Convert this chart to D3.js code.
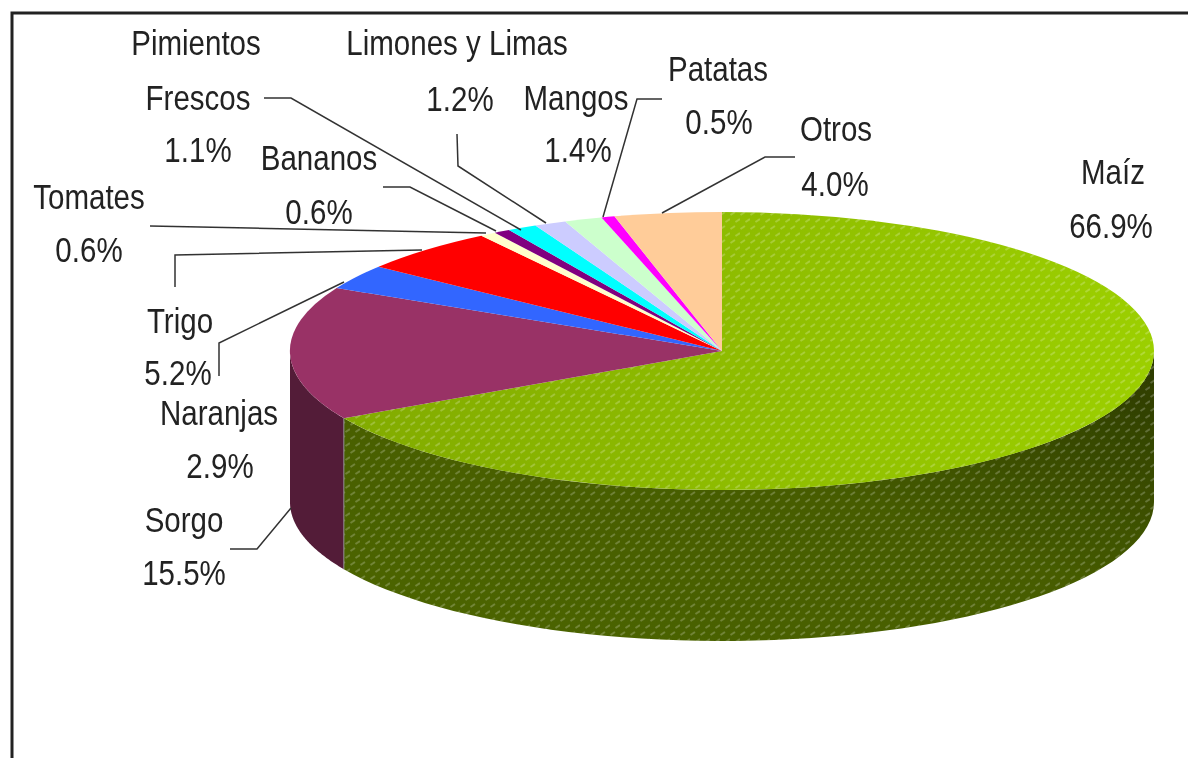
<!DOCTYPE html>
<html>
<head>
<meta charset="utf-8">
<script src="https://d3js.org/d3.v7.min.js"></script>
<style>
  html, body { margin: 0; padding: 0; background: #fff; }
  svg { display: block; }
  text { font-family: "Liberation Sans", Arial, sans-serif; fill: #222; }
</style>
</head>
<body>
<svg id="chart" width="1188" height="758"></svg>
<script>
// values, clockwise from 12 o'clock
const cultivos = ['Maíz', 'Sorgo', 'Naranjas', 'Trigo', 'Tomates', 'Bananos', 'Pimientos Frescos', 'Limones y Limas', 'Mangos', 'Patatas', 'Otros'];
const valores = [66.9, 15.5, 2.9, 5.2, 0.6, 0.6, 1.1, 1.2, 1.4, 0.5, 4.0];
const colores = ['#99cc00', '#993366', '#3366ff', '#ff0000', '#ffffcc', '#800080', '#00ffff', '#ccccff', '#ccffcc', '#ff00ff', '#ffcc99'];

// label layout: one entry per crop, lines are [text, x centre, baseline]
const etiquetas = [
  [['Maíz', 1113, 184], ['66.9%', 1111, 238]],
  [['Sorgo', 184, 532], ['15.5%', 184, 585]],
  [['Naranjas', 219, 425], ['2.9%', 220, 478]],
  [['Trigo', 180, 333], ['5.2%', 178, 385]],
  [['Tomates', 89, 209], ['0.6%', 89, 262]],
  [['Bananos', 319, 170], ['0.6%', 319, 224]],
  [['Pimientos', 196, 55], ['Frescos', 198, 110], ['1.1%', 198, 162]],
  [['Limones y Limas', 457, 55], ['1.2%', 460, 111]],
  [['Mangos', 576, 110], ['1.4%', 578, 162]],
  [['Patatas', 718, 81], ['0.5%', 719, 134]],
  [['Otros', 836, 141], ['4.0%', 835, 196]]
];

// leader lines, same order as the labels
const guias = [
  null,
  [[230, 549], [257, 549], [291, 508]],
  [[219, 376], [219, 343], [344, 282]],
  [[175, 287], [175, 255], [422, 250]],
  [[150, 226], [486, 233]],
  [[383, 187], [410, 187], [496, 231]],
  [[264, 98], [291, 98], [521, 230]],
  [[457, 134], [458, 166], [546, 223]],
  [[662, 99], [637, 99], [603, 217]],
  null,
  [[795, 157], [765, 157], [662, 213]]
];

const width = 1188, height = 758;
const cx = 722, cy = 351, rx = 432, ry = 139, depth = 151;

const svg = d3.select('#chart');
const defs = svg.append('defs');

const soft = defs.append('filter').attr('id', 'soft')
  .attr('x', '-5%').attr('y', '-5%').attr('width', '110%').attr('height', '110%');
soft.append('feGaussianBlur').attr('stdDeviation', 0.55);

// small light dashes over the corn slice
const trama = defs.append('pattern').attr('id', 'trama')
  .attr('patternUnits', 'userSpaceOnUse').attr('width', 10).attr('height', 14);
trama.append('path').attr('d', 'M0.5 5L5 2M5.5 12L10 9')
  .attr('stroke', '#fff').attr('stroke-opacity', 0.22).attr('stroke-width', 2).attr('fill', 'none');

const gradTop = defs.append('linearGradient').attr('id', 'maizTop');
gradTop.append('stop').attr('offset', '0%').attr('stop-color', '#82ab00');
gradTop.append('stop').attr('offset', '100%').attr('stop-color', '#9ccf00');

const gradSide = defs.append('linearGradient').attr('id', 'maizSide')
  .attr('x1', '0%').attr('y1', '100%').attr('x2', '100%').attr('y2', '0%');
gradSide.append('stop').attr('offset', '0%').attr('stop-color', '#4d6600');
gradSide.append('stop').attr('offset', '55%').attr('stop-color', '#465c00');
gradSide.append('stop').attr('offset', '100%').attr('stop-color', '#2c3a00');

const slices = d3.pie().sort(null).value(d => d)(valores);

const arc = d3.arc().innerRadius(0).outerRadius(1);

// point on the top ellipse, angle clockwise from 12 o'clock
const px = a => cx + rx * Math.sin(a);
const py = a => cy - ry * Math.cos(a);

// outer wall of a slice, only the part that faces the viewer
function wallPath(d) {
  const a0 = Math.max(d.startAngle, Math.PI / 2);
  const a1 = Math.min(d.endAngle, Math.PI * 3 / 2);
  if (a1 <= a0) return null;
  const angles = d3.range(0, 61).map(i => a0 + (a1 - a0) * i / 60);
  const top = angles.map(a => [px(a), py(a)]);
  const bottom = angles.slice().reverse().map(a => [px(a), py(a) + depth]);
  return d3.line()(top.concat(bottom)) + 'Z';
}

const pieG = svg.append('g').attr('filter', 'url(#soft)');

slices.forEach((d, i) => {
  const path = wallPath(d);
  if (!path) return;
  pieG.append('path').attr('d', path)
    .attr('fill', i === 0 ? 'url(#maizSide)' : d3.rgb(colores[i]).darker(1.75));
  if (i === 0) pieG.append('path').attr('d', path).attr('fill', 'url(#trama)');
});

// thin light edge where the two walls meet
const corte = slices[0].endAngle;
pieG.append('line')
  .attr('x1', px(corte)).attr('y1', py(corte))
  .attr('x2', px(corte)).attr('y2', py(corte) + depth)
  .attr('stroke', '#8f8f8f').attr('stroke-width', 1);

const topG = pieG.append('g').attr('transform', `translate(${cx},${cy}) scale(${rx},${ry})`);
topG.selectAll('path.top')
  .data(slices)
  .enter()
  .append('path')
  .attr('class', 'top')
  .attr('d', arc)
  .attr('fill', (d, i) => i === 0 ? 'url(#maizTop)' : colores[i]);

// pattern goes on in screen space so the dashes are not squashed by the scale
const maizLine = d3.range(0, 121).map(i => {
  const a = slices[0].startAngle + (slices[0].endAngle - slices[0].startAngle) * i / 120;
  return [px(a), py(a)];
});
pieG.append('path')
  .attr('d', d3.line()([[cx, cy]].concat(maizLine)) + 'Z')
  .attr('fill', 'url(#trama)');

const frameG = svg.append('g').attr('filter', 'url(#soft)');
frameG.append('path')
  .attr('d', `M12 ${height}V13H${width}`)
  .attr('fill', 'none').attr('stroke', '#222').attr('stroke-width', 3);

const guideG = svg.append('g').attr('filter', 'url(#soft)');
guias.forEach(g => {
  if (!g) return;
  guideG.append('path')
    .attr('d', d3.line()(g))
    .attr('fill', 'none').attr('stroke', '#333').attr('stroke-width', 1.5);
});

const labelG = svg.append('g').attr('filter', 'url(#soft)');
etiquetas.forEach(lines => {
  lines.forEach(([t, x, y]) => {
    labelG.append('text')
      .attr('transform', `translate(${x},${y}) scale(0.82,1)`)
      .attr('text-anchor', 'middle')
      .attr('font-size', 36)
      .text(t);
  });
});
</script>
</body>
</html>
